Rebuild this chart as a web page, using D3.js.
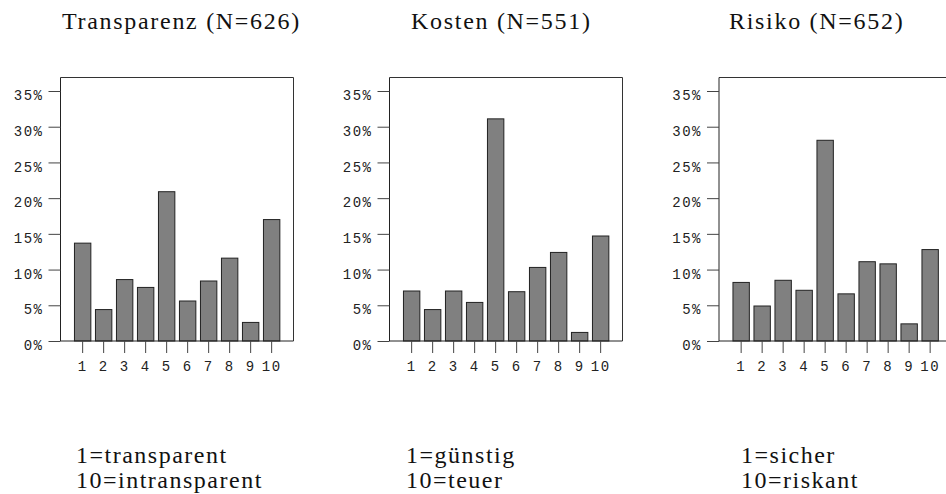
<!DOCTYPE html>
<html>
<head>
<meta charset="utf-8">
<script src="https://cdn.jsdelivr.net/npm/d3@7"></script>
<style>
  html, body { margin: 0; padding: 0; background: #fff; }
  svg { display: block; }
  .tick-lab { font-family: "Liberation Mono", monospace; font-size: 14px; fill: #222; letter-spacing: 1.5px; }
  .ttl { font-family: "Liberation Serif", serif; font-size: 24px; fill: #111; letter-spacing: 1.7px; }
  .cap { font-family: "Liberation Serif", serif; font-size: 24px; fill: #111; letter-spacing: 1.5px; }
</style>
</head>
<body>
<svg id="chart" width="946" height="494"></svg>
<script>
// ---- data ----
const categories = ["1","2","3","4","5","6","7","8","9","10"];
const transparenz = [13.7, 4.4, 8.6, 7.5, 20.9, 5.6, 8.4, 11.6, 2.6, 17.0];
const kosten      = [7.0, 4.4, 7.0, 5.4, 31.1, 6.9, 10.3, 12.4, 1.2, 14.7];
const risiko      = [8.2, 4.9, 8.5, 7.1, 28.1, 6.6, 11.1, 10.8, 2.4, 12.8];
const yTicks = [0, 5, 10, 15, 20, 25, 30, 35];
const titles = ["Transparenz (N=626)", "Kosten (N=551)", "Risiko (N=652)"];
const captionsLow  = ["1=transparent", "1=günstig", "1=sicher"];
const captionsHigh = ["10=intransparent", "10=teuer", "10=riskant"];

// ---- layout ----
const svg = d3.select("#chart");
const panels = [
  {values: transparenz, left: 60.5, titleX: 62,  capX: 76},
  {values: kosten,      left: 389.5, titleX: 411, capX: 406},
  {values: risiko,      left: 719,  titleX: 729, capX: 741}
];
const frameW = 233, frameTop = 77.5, y0 = 341, y35 = 91;
const y = d3.scaleLinear().domain([0, 35]).range([y0, y35]);

panels.forEach((p, i) => {
  const g = svg.append("g");
  const x = d3.scaleBand().domain(categories)
    .range([p.left + 11.65, p.left + 221.65])
    .paddingInner(0.22).paddingOuter(0.11);

  // frame (top and right)
  g.append("path")
    .attr("d", `M${p.left},${frameTop}H${p.left + frameW}V${y0}`)
    .attr("fill", "none").attr("stroke", "#333").attr("stroke-width", 1);

  // bars
  g.selectAll("rect.bar").data(p.values).join("rect")
    .attr("class", "bar")
    .attr("x", (d, j) => x(categories[j]))
    .attr("width", x.bandwidth())
    .attr("y", d => y(d))
    .attr("height", d => y0 - y(d))
    .attr("fill", "#808080")
    .attr("stroke", "#222").attr("stroke-width", 1);

  // y axis
  const ya = g.append("g").attr("transform", `translate(${p.left},0)`)
    .call(d3.axisLeft(y).tickValues(yTicks).tickSize(12).tickSizeOuter(0).tickFormat(d => d + "%"));
  ya.select(".domain").attr("d", `M0,${frameTop}V${y0}`).attr("stroke", "#222");
  ya.selectAll(".tick line").attr("stroke", "#444");
  ya.selectAll(".tick text").attr("class", "tick-lab").attr("x", -17).attr("dy", "0.62em")
    .attr("font-family", null).attr("font-size", null).attr("fill", null);

  // x axis
  const xa = g.append("g").attr("transform", `translate(0,${y0})`)
    .call(d3.axisBottom(x).tickSize(12).tickSizeOuter(0));
  xa.select(".domain").attr("d", `M${p.left},0H${p.left + frameW}`).attr("stroke", "#222");
  xa.selectAll(".tick line").attr("stroke", "#444");
  xa.selectAll(".tick text").attr("class", "tick-lab").attr("y", 20).attr("dy", "0.71em")
    .attr("font-family", null).attr("font-size", null).attr("fill", null);
  ya.attr("font-family", null).attr("font-size", null);
  xa.attr("font-family", null).attr("font-size", null);

  // title
  g.append("text").attr("class", "ttl").attr("x", p.titleX).attr("y", 29).text(titles[i]);
  // captions
  g.append("text").attr("class", "cap").attr("x", p.capX).attr("y", 463).text(captionsLow[i]);
  g.append("text").attr("class", "cap").attr("x", p.capX).attr("y", 488).text(captionsHigh[i]);
});
</script>
</body>
</html>
